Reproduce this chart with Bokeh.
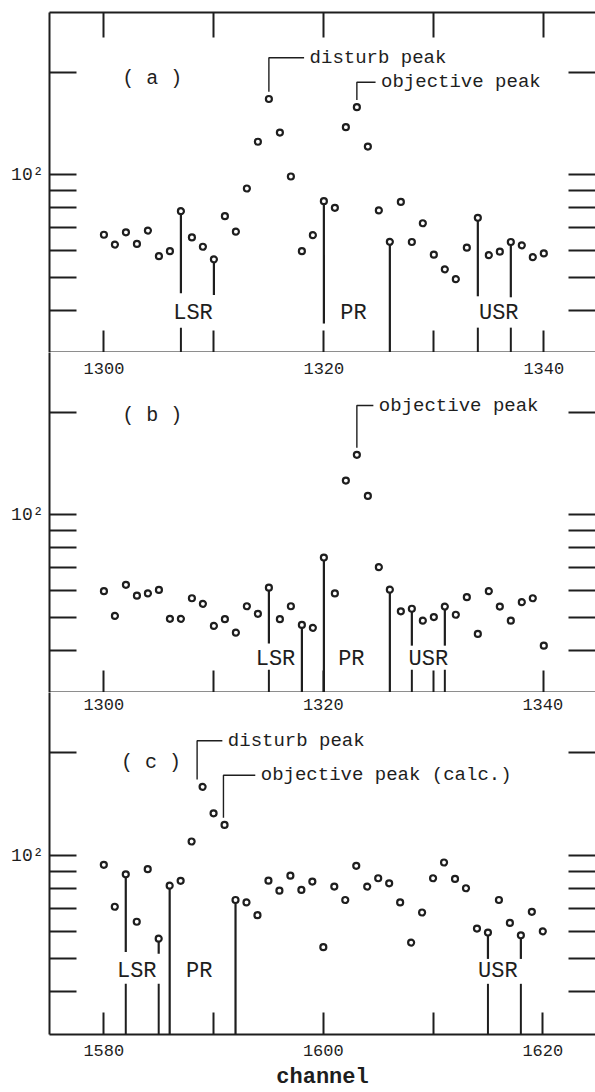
from bokeh.plotting import figure
from bokeh.models import FixedTicker, LogAxis, LinearAxis, CustomJSTickFormatter
from bokeh.layouts import column
from bokeh.embed import file_html
from bokeh.resources import INLINE
from bokeh.core.properties import value

FONT = "Liberation Mono"
INK = "#1e1e1e"

# ---------------- data ----------------
channels_a = list(range(1300, 1341))
counts_a = [66.6, 62.3, 67.7, 62.6, 68.5, 57.6, 59.6, 78.1, 65.4, 61.4,
            56.4, 75.5, 68.0, 91.1, 125, 167, 133, 98.8, 59.6, 66.4,
            83.6, 79.9, 138, 158, 121, 78.5, 63.5, 83.2, 63.4, 72.0,
            58.2, 52.7, 49.3, 61.0, 74.7, 58.0, 59.4, 63.4, 62.0, 57.2, 58.7]

channels_b = list(range(1300, 1341))
counts_b = [59.6, 50.4, 62.2, 57.8, 58.7, 60.1, 49.4, 49.4, 56.8, 54.7,
            47.1, 49.3, 45.0, 53.8, 51.1, 61.0, 49.3, 53.8, 47.4, 46.5,
            74.8, 58.7, 126, 150, 113.6, 70.1, 60.2, 52.0, 52.9, 48.8,
            50.0, 53.7, 50.8, 57.2, 44.6, 59.6, 53.7, 48.8, 55.3, 56.8, 41.2]

channels_c = list(range(1580, 1621))
counts_c = [94.0, 70.9, 88.2, 64.1, 91.3, 57.2, 81.7, 84.4, 110, 159,
            133, 123, 74.2, 73.0, 67.0, 84.5, 79.0, 87.4, 79.4, 84.0,
            54.0, 81.2, 74.2, 93.4, 81.2, 85.9, 83.0, 73.0, 55.7, 68.2,
            85.9, 95.5, 85.5, 80.3, 61.2, 59.6, 74.2, 63.6, 58.5, 68.5, 60.1]

# y axis ticks (log)
y_major = [100]
y_major_label = "10\u00b2"
y_minor = [40, 50, 60, 70, 80, 90, 200]

# x axis ticks
x_major_ab = [1300, 1320, 1340]
x_minor_ab = [1310, 1330]
x_labels_ab = ["1300", "1320", "1340"]
x_major_c = [1580, 1600, 1620]
x_minor_c = [1590, 1610]

# region markers: stems (channel, lower end) and boundary ticks
stems_a = [1307, 1310, 1320, 1326, 1334, 1337]
stem_ends_a = [44.8, 44.3, 36.5, 30, 43.9, 43.6]
rticks_a = [1307, 1334, 1337]

stems_b = [1315, 1318, 1320, 1326, 1328, 1331]
stem_ends_b = [41.8, 30, 30, 30, 41.2, 41.2]
rticks_b = [1315, 1328, 1331]

stems_c = [1582, 1585, 1586, 1592, 1615, 1618]
stem_ends_c = [52.3, 51.7, 30, 30, 49.9, 49.9]
rticks_c = [1582, 1585, 1615, 1618]

region_names = ["LSR", "PR", "USR"]
region_x_a = [1308.1, 1322.7, 1335.9]
region_x_b = [1315.6, 1322.5, 1329.5]
region_x_c = [1583.0, 1588.7, 1615.9]

# peak annotations
peaks_text_a = ["disturb peak", "objective peak"]
peaks_ch_a = [1315, 1323]
peaks_vx_a = [1315.0, 1323.0]
peaks_tx_a = [1318.7, 1325.2]
peaks_ty_a = [220.8, 187.0]

peaks_text_b = ["objective peak"]
peaks_ch_b = [1323]
peaks_vx_b = [1323.0]
peaks_tx_b = [1325.0]
peaks_ty_b = [209.5]

peaks_text_c = ["disturb peak", "objective peak (calc.)"]
peaks_ch_c = [1589, 1591]
peaks_vx_c = [1588.5, 1590.9]
peaks_tx_c = [1591.3, 1594.3]
peaks_ty_c = [216.7, 171.8]

panel_names = ["( a )", "( b )", "( c )"]


def tick_style(axis, inward):
    axis.major_tick_in = inward
    axis.major_tick_out = 0
    axis.minor_tick_in = inward
    axis.minor_tick_out = 0
    axis.major_tick_line_width = 2
    axis.minor_tick_line_width = 2
    axis.major_tick_line_color = INK
    axis.minor_tick_line_color = INK


def make_panel(ch, cnt, xr, height, top_border, x_major, x_minor, above, show_labels,
               top_labels, top_label_offset, stems, stem_ends, rticks, rtick_top,
               region_x, region_y, pname, pname_x, pname_y, ptexts, pch, pvx, ptx, pty):
    p = figure(width=595, height=height, x_range=xr, y_range=(30, 300),
               y_axis_type="log", x_axis_location=None, y_axis_location=None,
               output_backend="svg", toolbar_location=None,
               min_border_left=49, min_border_right=0, min_border_top=top_border,
               min_border_bottom=0, outline_line_color=None)
    p.grid.visible = False

    left = LogAxis(ticker=FixedTicker(ticks=y_major, minor_ticks=y_minor),
                   formatter=CustomJSTickFormatter(args=dict(s=y_major_label), code="return s;"),
                   axis_line_width=2, axis_line_color=INK,
                   major_label_standoff=6, major_label_text_font=FONT,
                   major_label_text_font_size="18px", major_label_text_color=INK)
    tick_style(left, 27)
    p.add_layout(left, "left")

    right = LogAxis(ticker=FixedTicker(ticks=[], minor_ticks=y_major + y_minor),
                    axis_line_color=None)
    tick_style(right, 27)
    p.add_layout(right, "right")

    if show_labels:
        below = LinearAxis(ticker=FixedTicker(ticks=x_major, minor_ticks=x_minor),
                           axis_line_width=2, axis_line_color=INK,
                           major_label_text_font=FONT, major_label_text_font_size="17px",
                           major_label_text_color=INK, major_label_standoff=10,
                           axis_label="channel", axis_label_text_font=FONT,
                           axis_label_text_font_size="22px",
                           axis_label_text_font_style="bold",
                           axis_label_text_color=INK, axis_label_standoff=6)
    else:
        below = LinearAxis(ticker=FixedTicker(ticks=[], minor_ticks=x_major + x_minor),
                           axis_line_width=2, axis_line_color=INK)
    tick_style(below, 22)
    p.add_layout(below, "below")

    if above:
        top = LinearAxis(ticker=FixedTicker(ticks=[], minor_ticks=x_major + x_minor),
                         axis_line_width=2, axis_line_color=INK)
        tick_style(top, 25)
        p.add_layout(top, "above")

    # tick labels of the panel above, printed just inside this frame
    # (same pixel positions as this panel's own major ticks)
    if top_labels:
        p.text(x=x_major, y=[300] * len(x_major), text=top_labels, y_offset=top_label_offset,
               text_font=value(FONT), text_font_size=value("17px"), text_color=INK,
               text_align="center", text_baseline="middle")

    lookup = dict(zip(ch, cnt))
    # region boundary ticks
    p.segment(x0=rticks, y0=[30] * len(rticks), x1=rticks, y1=[rtick_top] * len(rticks),
              line_width=2, line_color=INK)
    # stems
    p.segment(x0=stems, y0=[lookup[s] for s in stems], x1=stems, y1=stem_ends,
              line_width=2.2, line_color=INK)
    # region labels
    p.text(x=region_x, y=[region_y] * 3, text=region_names,
           text_font=value(FONT), text_font_size=value("22px"), text_color=INK,
           text_align="center", text_baseline="middle")
    # peak leaders
    xs, ys = [], []
    for c, vx, tx, ty in zip(pch, pvx, ptx, pty):
        y0 = lookup[c] * 1.05
        xs.append([vx, vx, tx - 0.5])
        ys.append([y0, ty, ty])
    p.multi_line(xs=xs, ys=ys, line_width=1.4, line_color=INK)
    p.text(x=ptx, y=pty, text=ptexts, text_font=value(FONT), text_font_size=value("19px"),
           text_color=INK, text_align="left", text_baseline="middle")
    # panel name
    p.text(x=[pname_x], y=[pname_y], text=[pname], text_font=value(FONT),
           text_font_size=value("20px"), text_color=INK, text_align="center",
           text_baseline="middle")
    # data points
    p.scatter(x=ch, y=cnt, marker="circle", size=6, fill_color="white",
              line_color=INK, line_width=2.2)
    return p


pa = make_panel(channels_a, counts_a, (1295.05, 1344.7), 352, 12, x_major_ab, x_minor_ab,
                True, False, None, 0,
                stems_a, stem_ends_a, rticks_a, 35.5, region_x_a, 39.2,
                panel_names[0], 1304.4, 191.9,
                peaks_text_a, peaks_ch_a, peaks_vx_a, peaks_tx_a, peaks_ty_a)
pb = make_panel(channels_b, counts_b, (1295.05, 1344.7), 340, 0, x_major_ab, x_minor_ab,
                False, False, x_labels_ab, 16,
                stems_b, stem_ends_b, rticks_b, 35.0, region_x_b, 37.6,
                panel_names[1], 1304.4, 196.0,
                peaks_text_b, peaks_ch_b, peaks_vx_b, peaks_tx_b, peaks_ty_b)
pc = make_panel(channels_c, counts_c, (1575.05, 1624.8), 400, 0, x_major_c, x_minor_c,
                False, True, x_labels_ab, 12,
                stems_c, stem_ends_c, rticks_c, 42.2, region_x_c, 45.7,
                panel_names[2], 1584.3, 187.0,
                peaks_text_c, peaks_ch_c, peaks_vx_c, peaks_tx_c, peaks_ty_c)

layout = column(pa, pb, pc, spacing=0)
open("out.html", "w").write(file_html(layout, INLINE))
